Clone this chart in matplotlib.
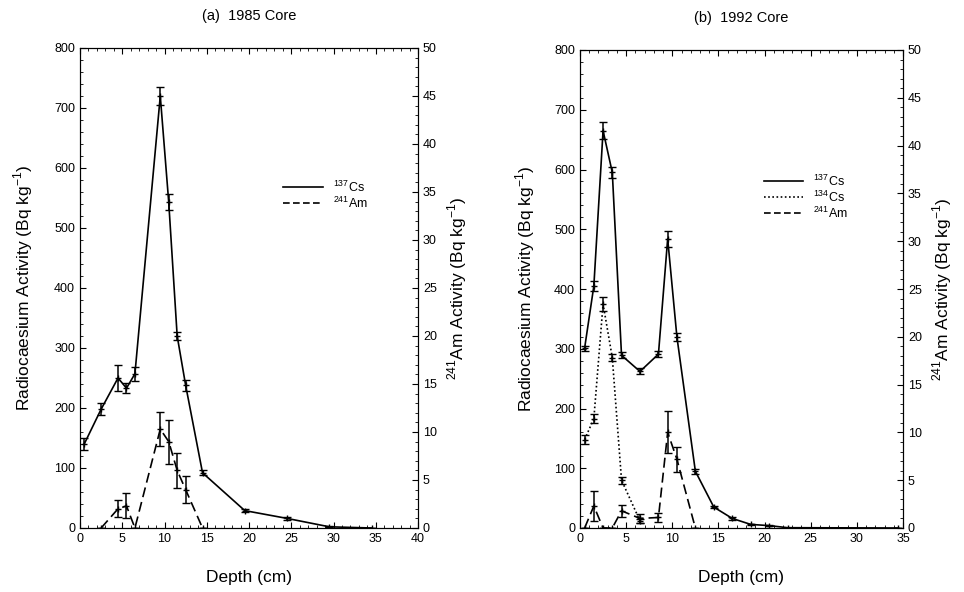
import matplotlib.pyplot as plt
import numpy as np
from matplotlib.ticker import MultipleLocator

plt.rcParams['font.family'] = ['Liberation Sans', 'DejaVu Sans']

# (a) 1985 core
depth_a = [0.5, 2.5, 4.5, 5.5, 6.5, 9.5, 10.5, 11.5, 12.5, 14.5, 19.5, 24.5, 29.5, 34.5]
cs137_a = [140, 198, 250, 233, 257, 720, 543, 320, 238, 92, 29, 16, 2, 0]
cs137_a_err = [10, 10, 22, 8, 12, 15, 13, 7, 9, 4, 2, 2, 1, 0]
am_depth_a = [2.5, 4.5, 5.5, 6.5, 9.5, 10.5, 11.5, 12.5, 14.5]
am241_a = [0, 2.0, 2.3, 0, 10.3, 9.0, 6.0, 4.0, 0]
am241_a_err = [0, 0.9, 1.3, 0, 1.8, 2.3, 1.8, 1.4, 0]

# (b) 1992 core
depth_b = [0.5, 1.5, 2.5, 3.5, 4.5, 6.5, 8.5, 9.5, 10.5, 12.5, 14.5, 16.5, 18.5, 20.5, 22.5, 34.5]
cs137_b = [301, 405, 665, 595, 289, 262, 291, 484, 320, 95, 35, 16, 6, 4, 0.5, 0]
cs137_b_err = [4, 8, 14, 10, 5, 5, 5, 13, 7, 4, 2, 2, 1, 1, 0, 0]
cs134_depth_b = [0.5, 1.5, 2.5, 3.5, 4.5, 6.5]
cs134_b = [148, 183, 375, 285, 80, 12]
cs134_b_err = [8, 8, 12, 6, 6, 3]
am_depth_b = [0.5, 1.5, 2.5, 3.5, 4.5, 6.5, 8.5, 9.5, 10.5, 12.5]
am241_b = [0, 2.3, 0, 0, 1.8, 1.0, 1.1, 10.0, 7.2, 0]
am241_b_err = [0, 1.6, 0, 0, 0.6, 0.5, 0.5, 2.2, 1.3, 0]

fig = plt.figure(figsize=(9.64, 5.92), dpi=100)

def ticks(ax):
    ax.tick_params(direction='in', which='both', labelsize=9)
    ax.tick_params(which='major', length=4)
    ax.tick_params(which='minor', length=2)

def draw(rect, xmax, series, am, title, legend_items, legpos, ylpad):
    ax = fig.add_axes(rect)
    ax2 = ax.twinx()
    for x, y, e, ls in series:
        ax.errorbar(x, y, yerr=e, color='k', ls=ls, lw=1.2, marker='+', ms=4,
                    capsize=3, elinewidth=1.1)
    x, y, e = am
    ax2.errorbar(x, y, yerr=e, color='k', ls=(0, (6, 3)), lw=1.2, marker='+', ms=4,
                 capsize=3, elinewidth=1.1)
    ax.set_xlim(0, xmax)
    ax.set_ylim(0, 800)
    ax2.set_ylim(0, 50)
    ax.xaxis.set_major_locator(MultipleLocator(5))
    ax.xaxis.set_minor_locator(MultipleLocator(1))
    ax.yaxis.set_major_locator(MultipleLocator(100))
    ax.yaxis.set_minor_locator(MultipleLocator(20))
    ax2.yaxis.set_major_locator(MultipleLocator(5))
    ax2.yaxis.set_minor_locator(MultipleLocator(1))
    ticks(ax)
    ax.tick_params(which='both', top=True)
    ticks(ax2)
    ax.set_xlabel('Depth (cm)', fontsize=12.5, labelpad=18)
    ax.set_ylabel('Radiocaesium Activity (Bq kg$^{\\mathregular{-1}}$)', fontsize=12.5, labelpad=ylpad)
    ax2.set_ylabel('$^{\\mathregular{241}}$Am Activity (Bq kg$^{\\mathregular{-1}}$)', fontsize=12.5, labelpad=6)
    ax.set_title(title, fontsize=10.5, pad=20)
    lx, ly = legpos
    for i, (lab, ls) in enumerate(legend_items):
        yy = ly - i * 0.033
        ax.plot([lx, lx + 0.12], [yy, yy], color='k', ls=ls, lw=1.2, transform=ax.transAxes)
        ax.text(lx + 0.15, yy, lab, transform=ax.transAxes, fontsize=9, va='center')
    return ax

draw([80 / 964, 64 / 592, 338 / 964, 480 / 592], 40,
     [(depth_a, cs137_a, cs137_a_err, '-')],
     (am_depth_a, am241_a, am241_a_err),
     '(a)  1985 Core',
     [('$^{\\mathregular{137}}$Cs', '-'), ('$^{\\mathregular{241}}$Am', (0, (4, 2)))],
     (0.60, 0.71), 14)

draw([580 / 964, 64 / 592, 323 / 964, 478 / 592], 35,
     [(depth_b, cs137_b, cs137_b_err, '-'),
      (cs134_depth_b, cs134_b, cs134_b_err, (0, (1, 1.5)))],
     (am_depth_b, am241_b, am241_b_err),
     '(b)  1992 Core',
     [('$^{\\mathregular{137}}$Cs', '-'), ('$^{\\mathregular{134}}$Cs', (0, (1, 1.5))),
      ('$^{\\mathregular{241}}$Am', (0, (4, 2)))],
     (0.57, 0.725), 12)

fig.savefig('out.png', dpi=100)
